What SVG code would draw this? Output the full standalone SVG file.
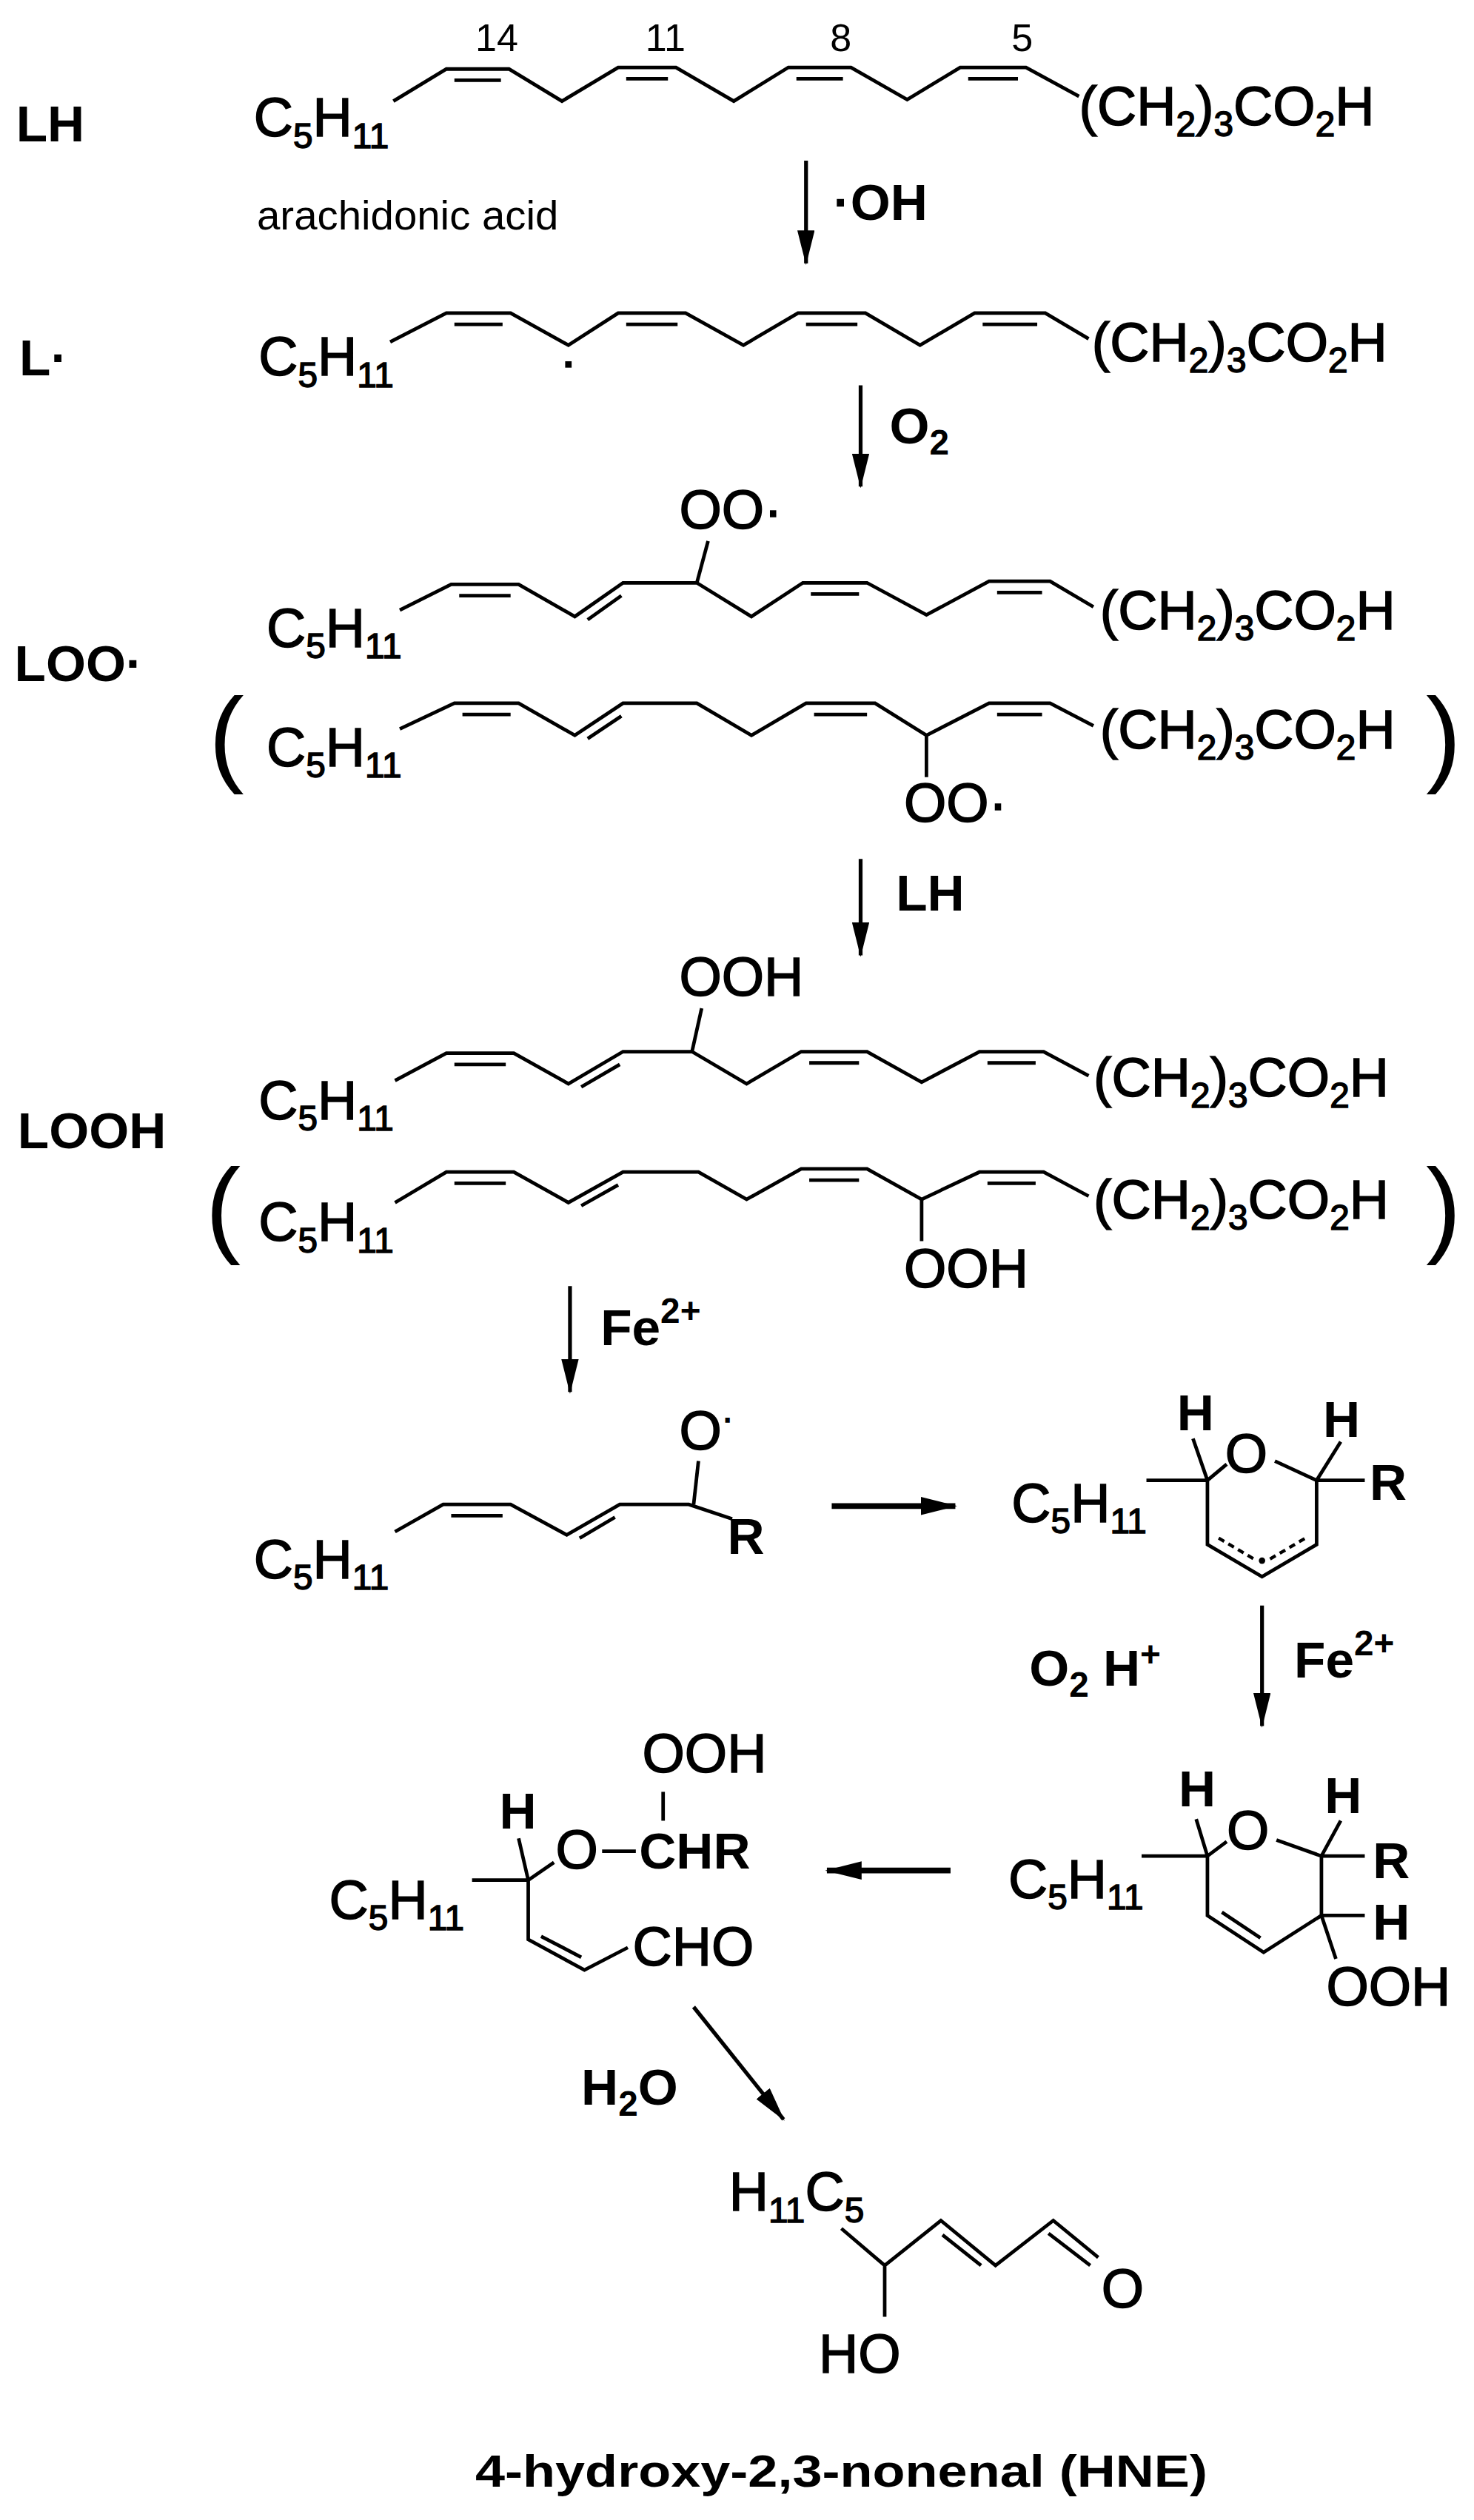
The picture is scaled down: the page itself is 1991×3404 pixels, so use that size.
<svg xmlns="http://www.w3.org/2000/svg" width="1991" height="3404" viewBox="0 0 1991 3404">
<defs>
<style>
text{font-family:"Liberation Sans",Arial,sans-serif;fill:#000}
.f{font-size:34px;stroke:#000;stroke-width:0.7}
.b{font-size:32px;font-weight:bold}
.n{font-size:24px}
.a{font-size:26px}
.s{font-size:22px}
.bd{fill:none;stroke:#000;stroke-width:2.2;stroke-linejoin:miter}
.ar{fill:none;stroke:#000;stroke-width:2.4}
.dash{fill:none;stroke:#000;stroke-width:2;stroke-dasharray:4 3}
</style>
<marker id="ah" viewBox="0 0 20 10" refX="19" refY="5" markerWidth="9" markerHeight="4.5" markerUnits="strokeWidth" orient="auto"><path d="M0,0 L20,5 L0,10 z" fill="#000"/></marker>
<marker id="ah2" viewBox="0 0 20 10" refX="19" refY="5" markerWidth="6.5" markerHeight="3.6" markerUnits="strokeWidth" orient="auto"><path d="M0,0 L20,5 L0,10 z" fill="#000"/></marker>
</defs>
<rect width="1991" height="3404" fill="#fff"/>
<g transform="scale(2.1688)">
<g id="LH">
<text class="b" x="10" y="88">LH</text>
<text class="f" x="158" y="85">C<tspan class="s" dy="7">5</tspan><tspan dy="-7">H</tspan><tspan class="s" dy="7">11</tspan></text>
<text class="n" x="296" y="32">14</text><text class="n" x="402" y="32">11</text><text class="n" x="517" y="32">8</text><text class="n" x="630" y="32">5</text>
<polyline class="bd" points="245,63 278,43 317,43 350,63 385,42 421,42 457,63 491,42 530,42 565,62 598,42 639,42 672,60"/>
<path class="bd" d="M283,50H312M390,49H416M496,49H525M603,49H634"/>
<text class="f" x="672" y="78">(CH<tspan class="s" dy="7">2</tspan><tspan dy="-7">)</tspan><tspan class="s" dy="7">3</tspan><tspan dy="-7">CO</tspan><tspan class="s" dy="7">2</tspan><tspan dy="-7">H</tspan></text>
<text class="a" x="160" y="143">arachidonic acid</text>
</g>
<g id="Lrad">
<text class="b" x="12" y="234">L·</text>
<text class="f" x="161" y="234">C<tspan class="s" dy="7">5</tspan><tspan dy="-7">H</tspan><tspan class="s" dy="7">11</tspan></text>
<polyline class="bd" points="243,213 278,195 318,195 354,215 385,195 427,195 463,215 497,195 539,195 573,215 607,195 651,195 678,211"/>
<path class="bd" d="M283,202H313M390,202H422M502,202H534M612,202H646"/>
<rect x="352" y="225" width="4" height="4"/>
<text class="f" x="680" y="225">(CH<tspan class="s" dy="7">2</tspan><tspan dy="-7">)</tspan><tspan class="s" dy="7">3</tspan><tspan dy="-7">CO</tspan><tspan class="s" dy="7">2</tspan><tspan dy="-7">H</tspan></text>
</g>
<g id="LOO">
<text class="b" x="9" y="424">LOO·</text>
<text class="f" x="423" y="329">OO·</text>
<path class="bd" d="M441,337L434,363"/>
<text class="f" x="166" y="403">C<tspan class="s" dy="7">5</tspan><tspan dy="-7">H</tspan><tspan class="s" dy="7">11</tspan></text>
<polyline class="bd" points="249,380 281,364 323,364 358,384 388,363 434,363 468,384 500,363 540,363 577,383 616,362 654,362 681,378"/>
<path class="bd" d="M286,371H318M505,370H535M621,369H649M366,386L387,371"/>
<text class="f" x="685" y="392">(CH<tspan class="s" dy="7">2</tspan><tspan dy="-7">)</tspan><tspan class="s" dy="7">3</tspan><tspan dy="-7">CO</tspan><tspan class="s" dy="7">2</tspan><tspan dy="-7">H</tspan></text>
<text x="130" y="481" style="font-size:66px">(</text>
<text x="888" y="481" style="font-size:66px">)</text>
<text class="f" x="166" y="477">C<tspan class="s" dy="7">5</tspan><tspan dy="-7">H</tspan><tspan class="s" dy="7">11</tspan></text>
<polyline class="bd" points="249,454 283,438 323,438 358,458 388,438 434,438 468,458 502,438 545,438 577,458 616,438 654,438 681,452"/>
<path class="bd" d="M288,445H318M507,445H540M621,445H649M366,460L387,446M577,458V484"/>
<text class="f" x="685" y="466">(CH<tspan class="s" dy="7">2</tspan><tspan dy="-7">)</tspan><tspan class="s" dy="7">3</tspan><tspan dy="-7">CO</tspan><tspan class="s" dy="7">2</tspan><tspan dy="-7">H</tspan></text>
<text class="f" x="563" y="512">OO·</text>
</g>
<g id="LOOH">
<text class="b" x="11" y="715">LOOH</text>
<text class="f" x="423" y="620">OOH</text>
<path class="bd" d="M437,628L431,655"/>
<text class="f" x="161" y="697">C<tspan class="s" dy="7">5</tspan><tspan dy="-7">H</tspan><tspan class="s" dy="7">11</tspan></text>
<polyline class="bd" points="246,673 278,656 320,656 354,675 388,655 431,655 465,675 499,655 540,655 574,674 610,655 650,655 678,670"/>
<path class="bd" d="M283,663H315M504,662H535M615,662H645M362,677L386,663"/>
<text class="f" x="681" y="683">(CH<tspan class="s" dy="7">2</tspan><tspan dy="-7">)</tspan><tspan class="s" dy="7">3</tspan><tspan dy="-7">CO</tspan><tspan class="s" dy="7">2</tspan><tspan dy="-7">H</tspan></text>
<text x="128" y="774" style="font-size:66px">(</text>
<text x="888" y="774" style="font-size:66px">)</text>
<text class="f" x="161" y="773">C<tspan class="s" dy="7">5</tspan><tspan dy="-7">H</tspan><tspan class="s" dy="7">11</tspan></text>
<polyline class="bd" points="246,749 278,730 320,730 354,749 388,730 435,730 465,747 499,728 540,728 574,747 610,730 650,730 678,745"/>
<path class="bd" d="M283,737H315M504,735H535M615,737H645M362,751L385,738M574,747V773"/>
<text class="f" x="681" y="759">(CH<tspan class="s" dy="7">2</tspan><tspan dy="-7">)</tspan><tspan class="s" dy="7">3</tspan><tspan dy="-7">CO</tspan><tspan class="s" dy="7">2</tspan><tspan dy="-7">H</tspan></text>
<text class="f" x="563" y="802">OOH</text>
</g>
<g id="alkoxyl">
<text class="f" x="423" y="903">O<tspan dy="-12" class="s">·</tspan></text>
<path class="bd" d="M435,910L432,937"/>
<text class="f" x="158" y="983">C<tspan class="s" dy="7">5</tspan><tspan dy="-7">H</tspan><tspan class="s" dy="7">11</tspan></text>
<polyline class="bd" points="246,954 276,937 318,937 353,956 386,937 429,937 456,946"/>
<path class="bd" d="M281,944H313M361,958L383,945"/>
<text class="b" x="453" y="968">R</text>
</g>
<g id="pyran1">
<text class="f" x="630" y="948">C<tspan class="s" dy="7">5</tspan><tspan dy="-7">H</tspan><tspan class="s" dy="7">11</tspan></text>
<text class="b" x="733" y="891">H</text><text class="b" x="824" y="895">H</text>
<text class="f" x="763" y="917">O</text>
<text class="b" x="853" y="934">R</text>
<path class="bd" d="M714,922H752M743,896L752,922L764,912M794,910L820,922L835,898M820,922H850M752,922V962L786,982L820,962V922"/>
<path class="dash" d="M759,958L781,971M791,971L813,958"/>
<circle cx="786" cy="972" r="2"/>
</g>
<g id="pyran2">
<text class="f" x="628" y="1182">C<tspan class="s" dy="7">5</tspan><tspan dy="-7">H</tspan><tspan class="s" dy="7">11</tspan></text>
<text class="b" x="734" y="1125">H</text><text class="b" x="825" y="1129">H</text>
<text class="f" x="764" y="1152">O</text>
<text class="b" x="855" y="1170">R</text>
<text class="b" x="855" y="1208">H</text>
<text class="f" x="826" y="1249">OOH</text>
<path class="bd" d="M711,1156H752M745,1133L752,1156L764,1147M795,1146L823,1156L835,1134M823,1156H850M752,1156V1193L787,1216L823,1193V1156M823,1193H850M823,1193L832,1220M761,1191L785,1207"/>
</g>
<g id="dialdehyde">
<text class="f" x="400" y="1104">OOH</text>
<path class="bd" d="M413,1116V1134"/>
<text class="b" x="311" y="1139">H</text>
<text class="f" x="346" y="1164">O</text>
<path class="bd" d="M375,1153H396"/>
<text class="b" x="398" y="1164">CHR</text>
<text class="f" x="205" y="1195">C<tspan class="s" dy="7">5</tspan><tspan dy="-7">H</tspan><tspan class="s" dy="7">11</tspan></text>
<path class="bd" d="M294,1171H329M323,1145L329,1171L345,1160M329,1171V1208L364,1227L391,1213M337,1206L362,1219"/>
<text class="f" x="394" y="1224">CHO</text>
</g>
<g id="HNE">
<text class="f" x="454" y="1377">H<tspan class="s" dy="7">11</tspan><tspan dy="-7">C</tspan><tspan class="s" dy="7">5</tspan></text>
<path class="bd" d="M524,1388L551,1411L586,1383L620,1411L656,1383L684,1406M551,1411V1443M587,1392L611,1411M653,1391L679,1411"/>
<text class="f" x="686" y="1437">O</text>
<text class="f" x="510" y="1478">HO</text>
<text x="296" y="1549" style="font-size:28px;font-weight:bold" textLength="456" lengthAdjust="spacingAndGlyphs">4-hydroxy-2,3-nonenal (HNE)</text>
</g>
<g id="connectors">
<path class="ar" d="M502,100V164" marker-end="url(#ah)"/>
<path class="ar" d="M536,240V303" marker-end="url(#ah)"/>
<path class="ar" d="M536,535V595" marker-end="url(#ah)"/>
<path class="ar" d="M355,801V867" marker-end="url(#ah)"/>
<path class="ar" d="M518,938H595" style="stroke-width:3.5" marker-end="url(#ah2)"/>
<path class="ar" d="M786,1000V1075" marker-end="url(#ah)"/>
<path class="ar" d="M592,1165H515" style="stroke-width:3.5" marker-end="url(#ah2)"/>
<path class="ar" d="M432,1250L488,1320" marker-end="url(#ah)"/>
<text class="b" x="519" y="137">·OH</text>
<text class="b" x="554" y="276">O<tspan class="s" dy="7">2</tspan></text>
<text class="b" x="558" y="567">LH</text>
<text class="b" x="374" y="838">Fe<tspan class="s" dy="-14">2+</tspan></text>
<text class="b" x="641" y="1050">O<tspan class="s" dy="7">2</tspan><tspan dy="-7"> H</tspan><tspan class="s" dy="-12">+</tspan></text>
<text class="b" x="806" y="1045">Fe<tspan class="s" dy="-14">2+</tspan></text>
<text class="b" x="362" y="1311">H<tspan class="s" dy="7">2</tspan><tspan dy="-7">O</tspan></text>
</g>
</g>
</svg>
